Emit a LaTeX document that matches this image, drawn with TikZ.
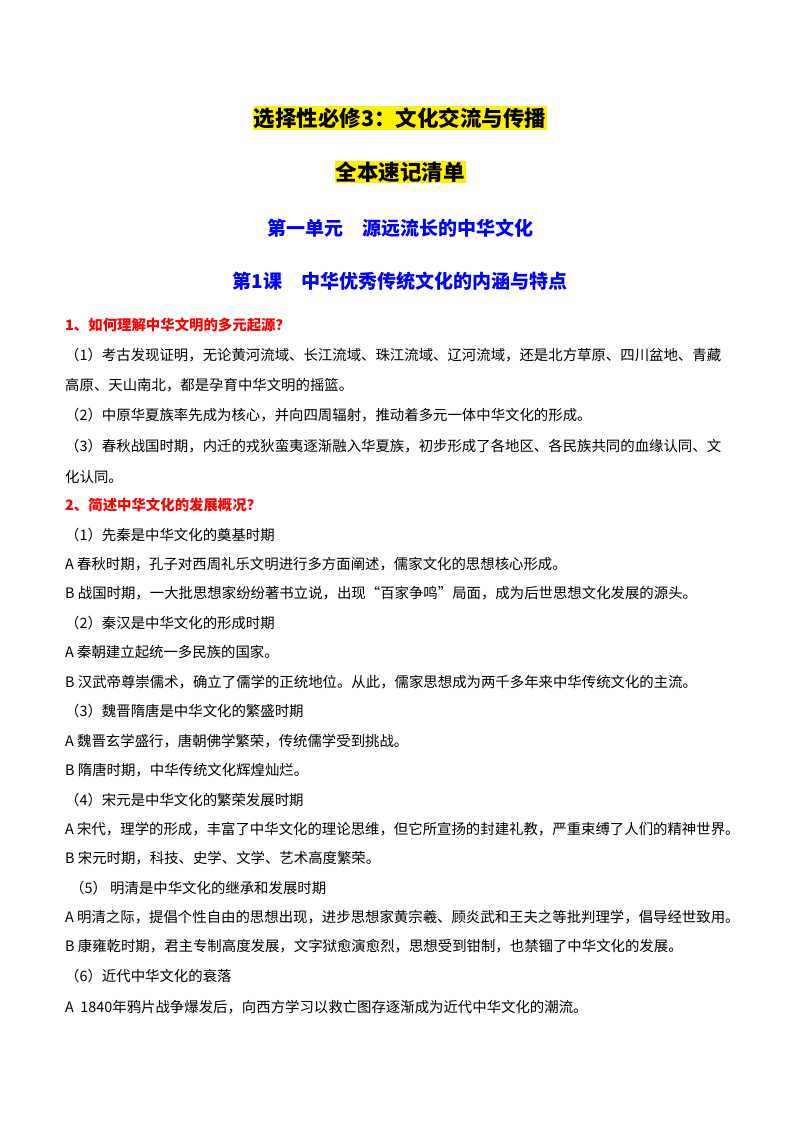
\documentclass[tikz,border=0pt]{standalone}
\usepackage{fontspec}
\newfontfamily\cjk{Noto Sans CJK SC}
\usetikzlibrary{positioning}
\begin{document}
\begin{tikzpicture}[x=1pt,y=-1pt,
	body/.style={anchor=west,inner sep=0pt,font=\cjk\fontsize{14.4}{15}\selectfont},
	ask/.style={body,text=red,font=\cjk\bfseries\fontsize{14.4}{15}\selectfont},
	title/.style={inner sep=1pt,fill=yellow,font=\cjk\bfseries\fontsize{21.5}{23}\selectfont},
	unit/.style={inner sep=0pt,text=blue,font=\cjk\bfseries\fontsize{19}{21}\selectfont}
	]
\useasboundingbox (0,0) rectangle (800,1132);
% titles
\node [title] (t1) at (400,118) {选择性必修3：文化交流与传播};
\node [title] (t2) at (400,172) {全本速记清单};
\node [unit] (u1) at (400,228) {第一单元\quad 源远流长的中华文化};
\node [unit] (u2) at (400,281) {第1课\quad 中华优秀传统文化的内涵与特点};

% question 1
\node [ask] (q1) at (65,325) {1、如何理解中华文明的多元起源？};
\node [body] (a11) at (65,355) {（1）考古发现证明，无论黄河流域、长江流域、珠江流域、辽河流域，还是北方草原、四川盆地、青藏};
\node [body] (a12) at (65,385) {高原、天山南北，都是孕育中华文明的摇篮。};
\node [body] (a13) at (65,415) {（2）中原华夏族率先成为核心，并向四周辐射，推动着多元一体中华文化的形成。};
\node [body] (a14) at (65,446) {（3）春秋战国时期，内迁的戎狄蛮夷逐渐融入华夏族，初步形成了各地区、各民族共同的血缘认同、文};
\node [body] (a15) at (65,477) {化认同。};

% question 2
\node [ask] (q2) at (65,505) {2、简述中华文化的发展概况？};
\node [body] (b01) at (65,535) {（1）先秦是中华文化的奠基时期};
\node [body] (b02) at (65,564) {A 春秋时期，孔子对西周礼乐文明进行多方面阐述，儒家文化的思想核心形成。};
\node [body] (b03) at (65,593) {B 战国时期，一大批思想家纷纷著书立说，出现“百家争鸣”局面，成为后世思想文化发展的源头。};
\node [body] (b04) at (65,623) {（2）秦汉是中华文化的形成时期};
\node [body] (b05) at (65,652) {A 秦朝建立起统一多民族的国家。};
\node [body] (b06) at (65,682) {B 汉武帝尊崇儒术，确立了儒学的正统地位。从此，儒家思想成为两千多年来中华传统文化的主流。};
\node [body] (b07) at (65,711) {（3）魏晋隋唐是中华文化的繁盛时期};
\node [body] (b08) at (65,741) {A 魏晋玄学盛行，唐朝佛学繁荣，传统儒学受到挑战。};
\node [body] (b09) at (65,770) {B 隋唐时期，中华传统文化辉煌灿烂。};
\node [body] (b10) at (65,800) {（4）宋元是中华文化的繁荣发展时期};
\node [body] (b11) at (65,829) {A 宋代，理学的形成，丰富了中华文化的理论思维，但它所宣扬的封建礼教，严重束缚了人们的精神世界。};
\node [body] (b12) at (65,858) {B 宋元时期，科技、史学、文学、艺术高度繁荣。};
\node [body] (b13) at (70,888) {（5）\ 明清是中华文化的继承和发展时期};
\node [body] (b14) at (65,917) {A 明清之际，提倡个性自由的思想出现，进步思想家黄宗羲、顾炎武和王夫之等批判理学，倡导经世致用。};
\node [body] (b15) at (65,946) {B 康雍乾时期，君主专制高度发展，文字狱愈演愈烈，思想受到钳制，也禁锢了中华文化的发展。};
\node [body] (b16) at (65,976) {（6）近代中华文化的衰落};
\node [body] (b17) at (65,1007) {A\ \ 1840年鸦片战争爆发后，向西方学习以救亡图存逐渐成为近代中华文化的潮流。};
\end{tikzpicture}
\end{document}
